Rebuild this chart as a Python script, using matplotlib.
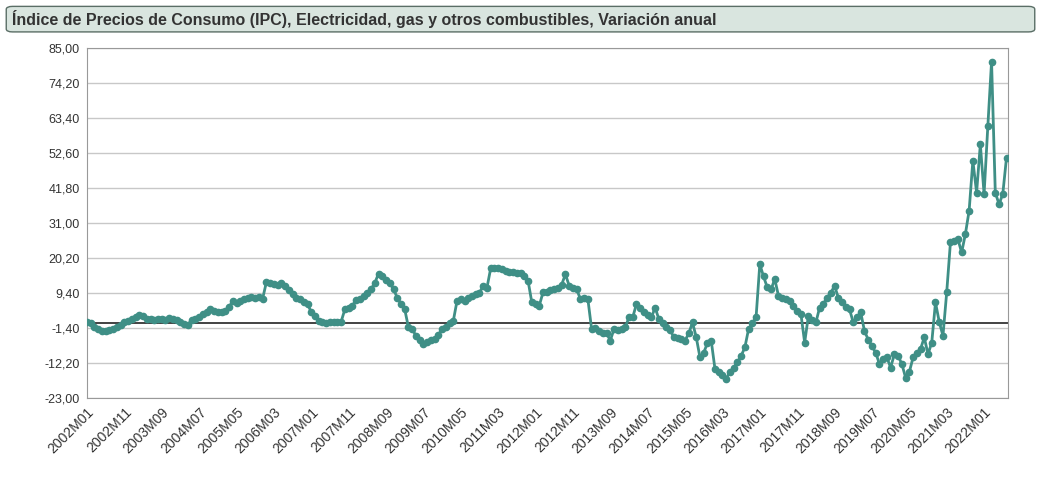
import matplotlib
matplotlib.use('Agg')
import matplotlib.pyplot as plt
from matplotlib.patches import FancyBboxPatch
import numpy as np

TITLE = 'Índice de Precios de Consumo (IPC), Electricidad, gas y otros combustibles, Variación anual'

# monthly annual variation, 2002M01 .. 2022M07
v2002 = [0.5, 0.0, -1.0, -1.8, -2.3, -2.2, -2.0, -1.8, -1.2, -0.5, 0.3, 0.8]
v2003 = [1.5, 2.0, 2.6, 2.2, 1.3, 1.4, 1.2, 1.3, 1.5, 1.2, 1.8, 1.4]
v2004 = [1.0, 0.3, -0.2, -0.5, 1.2, 1.5, 2.0, 2.8, 3.5, 4.6, 4.0, 3.6]
v2005 = [3.6, 4.0, 5.0, 7.0, 6.4, 6.8, 7.5, 8.0, 8.3, 7.8, 8.2, 7.7]
v2006 = [12.8, 12.5, 12.3, 12.0, 12.6, 11.5, 10.2, 9.0, 8.0, 7.4, 6.5, 6.0]
v2007 = [3.5, 2.4, 0.8, 0.3, 0.2, 0.3, 0.4, 0.3, 0.6, 4.4, 4.8, 5.5]
v2008 = [7.3, 7.5, 8.4, 9.5, 10.6, 12.5, 15.4, 14.5, 13.5, 12.6, 10.5, 8.0]
v2009 = [6.0, 4.4, -1.2, -1.7, -3.8, -5.2, -6.4, -5.6, -5.0, -4.8, -3.5, -1.7]
v2010 = [-1.0, 0.0, 0.8, 7.0, 7.5, 7.0, 8.0, 8.5, 9.0, 9.5, 11.6, 11.0]
v2011 = [17.0, 17.2, 17.0, 16.8, 16.3, 16.0, 15.8, 15.7, 15.7, 14.5, 13.2, 6.5]
v2012 = [6.0, 5.5, 9.6, 9.8, 10.2, 10.6, 11.0, 12.0, 15.2, 11.6, 11.0, 10.6]
v2013 = [7.5, 7.8, 7.5, -1.7, -1.5, -2.3, -2.8, -3.0, -5.3, -1.7, -2.0, -1.8]
v2014 = [-1.2, 1.9, 1.9, 6.0, 4.9, 3.5, 2.5, 1.9, 4.9, 1.3, 0.0, -1.2]
v2015 = [-2.0, -4.3, -4.5, -4.8, -5.3, -3.0, 0.3, -4.3, -10.5, -9.0, -6.0, -5.3]
v2016 = [-14.0, -15.0, -16.0, -17.0, -15.0, -13.6, -12.0, -10.0, -7.4, -1.7, 0.0, 1.9]
v2017 = [18.3, 14.5, 11.1, 10.5, 13.7, 8.5, 8.0, 7.5, 7.0, 5.5, 4.0, 2.9]
v2018 = [-5.9, 2.4, 1.0, 0.3, 4.9, 6.0, 8.0, 9.5, 11.6, 8.0, 6.5, 5.0]
v2019 = [4.4, 0.3, 2.0, 3.4, -2.3, -5.0, -7.0, -9.0, -12.5, -11.0, -10.5, -13.6]
v2020 = [-9.5, -10.0, -12.5, -16.7, -15.0, -10.5, -9.0, -7.9, -4.3, -9.5, -5.9, 6.5]
v2021 = [0.5, -3.8, 9.6, 25.0, 25.5, 26.0, 21.9, 27.6, 34.8, 50.2, 40.4, 55.3]
v2022 = [39.9, 60.8, 80.8, 40.4, 36.8, 39.9, 51.2]

values = (v2002 + v2003 + v2004 + v2005 + v2006 + v2007 + v2008 + v2009 + v2010
          + v2011 + v2012 + v2013 + v2014 + v2015 + v2016 + v2017 + v2018
          + v2019 + v2020 + v2021 + v2022)
labels = [f'{2002 + i // 12}M{i % 12 + 1:02d}' for i in range(len(values))]

y_ticks = [-23.0, -12.2, -1.4, 9.4, 20.2, 31.0, 41.8, 52.6, 63.4, 74.2, 85.0]

fig = plt.figure(figsize=(10.41, 4.91), dpi=100)
fig.patch.set_facecolor('white')

# title bar
bar = FancyBboxPatch((0.006, 0.935), 0.988, 0.052, boxstyle='round,pad=0,rounding_size=0.006',
                     transform=fig.transFigure, facecolor='#d9e5df', edgecolor='#5a6e66',
                     linewidth=1.0)
fig.patches.append(bar)
fig.text(0.012, 0.961, TITLE, fontsize=11.5, fontweight='bold', color='#333333',
         va='center', ha='left', family='Liberation Sans')

ax = fig.add_axes([87 / 1041, 1 - 398 / 491, (1008 - 87) / 1041, (398 - 48) / 491])
x = np.arange(len(values))
ax.plot(x, values, '-o', color='#3f8f86', linewidth=2, markersize=4.5,
        markeredgecolor='#3f8f86', zorder=3)
ax.axhline(0, color='#222222', linewidth=1.2, zorder=2)

ax.set_xlim(0, len(values) - 0.6)
ax.set_ylim(-23, 85)
ax.set_yticks(y_ticks)
ax.set_yticklabels([f'{t:.2f}'.replace('.', ',') for t in y_ticks], fontsize=9,
                   family='Liberation Sans', color='#333333')
ax.grid(axis='y', color='#c8c8c8', linewidth=1)
tick_pos = list(range(0, len(values), 10))
ax.set_xticks(tick_pos)
ax.set_xticklabels([labels[i] for i in tick_pos], rotation=45, ha='right',
                   rotation_mode='anchor', fontsize=10, family='Liberation Sans',
                   color='#333333')
ax.tick_params(axis='both', length=0, pad=5)
for s in ax.spines.values():
    s.set_color('#999999')

fig.savefig('out.png', dpi=100, facecolor='white')
